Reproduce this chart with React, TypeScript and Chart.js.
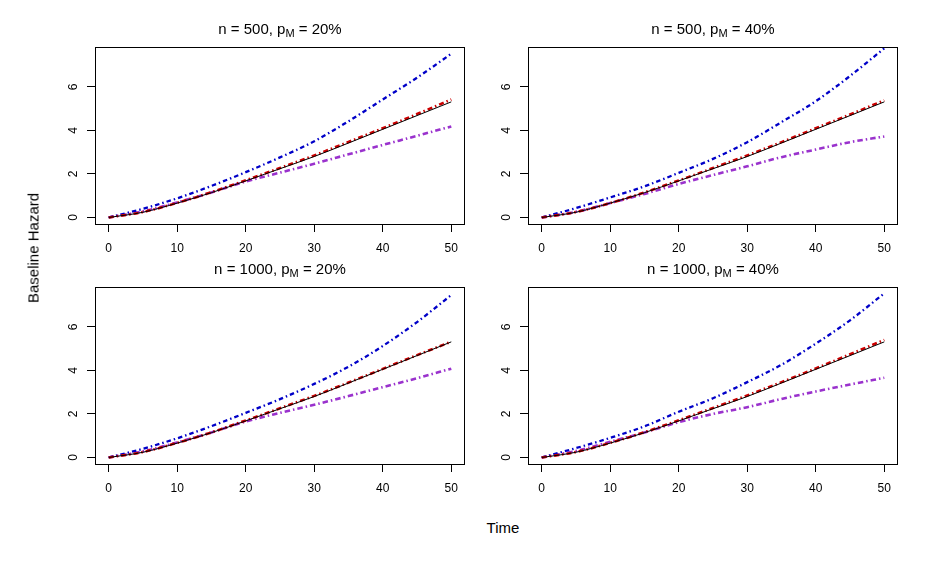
import {useEffect, useRef} from "react";
import {Chart, registerables} from "chart.js";

Chart.register(...registerables);

// time grid the curves were read at
const timePoints = [0, 5, 10, 15, 20, 25, 30, 35, 40, 45, 50];
const xTicks = [0, 10, 20, 30, 40, 50];
const yTicks = [0, 2, 4, 6];

// panel titles
const sampleSizes = [500, 500, 1000, 1000];
const missingPct = [20, 40, 20, 40];

// true baseline hazard (black, same in every panel)
const trueHazard = [0, 0.24, 0.66, 1.14, 1.68, 2.24, 2.8, 3.42, 4.05, 4.68, 5.31];

// red estimates
const redP1 = [0, 0.25, 0.67, 1.16, 1.71, 2.27, 2.85, 3.47, 4.1, 4.75, 5.42];
const redP2 = [0, 0.25, 0.66, 1.15, 1.7, 2.27, 2.85, 3.46, 4.1, 4.73, 5.38];
const redP3 = [0, 0.25, 0.67, 1.15, 1.7, 2.26, 2.83, 3.44, 4.07, 4.7, 5.32];
const redP4 = [0, 0.25, 0.67, 1.16, 1.71, 2.27, 2.85, 3.46, 4.09, 4.74, 5.4];

// blue estimates
const blueP1 = [0, 0.4, 0.88, 1.45, 2.08, 2.76, 3.5, 4.42, 5.42, 6.42, 7.52];
const blueP2 = [0, 0.43, 0.92, 1.43, 2.05, 2.69, 3.46, 4.38, 5.34, 6.5, 7.77];
const blueP3 = [0, 0.4, 0.88, 1.44, 2.05, 2.68, 3.38, 4.17, 5.12, 6.22, 7.46];
const blueP4 = [0, 0.43, 0.9, 1.43, 2.1, 2.72, 3.46, 4.26, 5.23, 6.3, 7.54];

// purple estimates
const purpleP1 = [0, 0.28, 0.69, 1.15, 1.65, 2.06, 2.47, 2.9, 3.33, 3.75, 4.18];
const purpleP2 = [0, 0.26, 0.66, 1.08, 1.54, 1.95, 2.35, 2.77, 3.12, 3.46, 3.72];
const purpleP3 = [0, 0.28, 0.69, 1.15, 1.65, 2.05, 2.42, 2.82, 3.23, 3.64, 4.08];
const purpleP4 = [0, 0.3, 0.72, 1.15, 1.62, 2.0, 2.31, 2.69, 3.03, 3.35, 3.66];

const redSeries = [redP1, redP2, redP3, redP4];
const blueSeries = [blueP1, blueP2, blueP3, blueP4];
const purpleSeries = [purpleP1, purpleP2, purpleP3, purpleP4];

const FONT = '"Liberation Sans", Arial, sans-serif';

// plot-area positions on the page
const plotLefts = [95, 528, 95, 528];
const plotTops = [47, 47, 287, 287];
const PLOT_W = 370;
const PLOT_H = 177;
const PAD_L = 60;
const PAD_T = 40;
const PAD_R = 10;
const PAD_B = 36;

const boxPlugin = {
    id: "box",
    afterDatasetsDraw(chart: any) {
        const {ctx, chartArea: a} = chart;
        ctx.save();
        ctx.strokeStyle = "#000";
        ctx.lineWidth = 1;
        ctx.strokeRect(a.left + 0.5, a.top + 0.5, a.right - a.left - 1, a.bottom - a.top);
        ctx.restore();
    },
};

const titlePlugin = {
    id: "panelTitle",
    afterDraw(chart: any, _args: any, opts: any) {
        const {ctx, chartArea: a} = chart;
        const big = `15px ${FONT}`;
        const small = `11px ${FONT}`;
        const head = `n = ${opts.n}, p`;
        const sub = "M";
        const tail = ` = ${opts.pct}%`;
        ctx.save();
        ctx.fillStyle = "#000";
        ctx.textBaseline = "alphabetic";
        ctx.textAlign = "left";
        ctx.font = big;
        const w1 = ctx.measureText(head).width;
        const w3 = ctx.measureText(tail).width;
        ctx.font = small;
        const w2 = ctx.measureText(sub).width;
        let x = (a.left + a.right) / 2 - (w1 + w2 + w3) / 2;
        const y = a.top - 13;
        ctx.font = big;
        ctx.fillText(head, x, y);
        x += w1;
        ctx.font = small;
        ctx.fillText(sub, x, y + 3);
        x += w2;
        ctx.font = big;
        ctx.fillText(tail, x, y);
        ctx.restore();
    },
};

const toPoints = (vals: number[]) => timePoints.map((t, i) => ({x: t, y: vals[i]}));

const Panel = ({idx}: {idx: number}) => {
    const canvasRef = useRef<HTMLCanvasElement>(null);

    useEffect(() => {
        if (!canvasRef.current) return;
        const dash = (color: string, vals: number[], width: number, pattern: number[]) => ({
            data: toPoints(vals),
            borderColor: color,
            borderWidth: width,
            borderDash: pattern,
            borderCapStyle: "butt" as const,
            pointRadius: 0,
            cubicInterpolationMode: "monotone" as const,
            fill: false,
        });
        const chart = new Chart(canvasRef.current, {
            type: "line",
            data: {
                datasets: [
                    {
                        data: toPoints(trueHazard),
                        borderColor: "#000",
                        borderWidth: 1,
                        pointRadius: 0,
                        cubicInterpolationMode: "monotone",
                        fill: false,
                    },
                    dash("#CC0000", redSeries[idx], 2.6, [5, 3, 1.5, 3]),
                    dash("#0000C8", blueSeries[idx], 2.3, [4.5, 3, 1.5, 3]),
                    dash("#9A32CD", purpleSeries[idx], 2.6, [5.5, 3, 1.5, 3]),
                ],
            },
            options: {
                animation: false,
                responsive: false,
                devicePixelRatio: 1,
                layout: {padding: {top: PAD_T, right: PAD_R, left: 0, bottom: 0}},
                plugins: {
                    legend: {display: false},
                    tooltip: {enabled: false},
                    panelTitle: {n: sampleSizes[idx], pct: missingPct[idx]},
                } as any,
                scales: {
                    x: {
                        type: "linear",
                        min: -2,
                        max: 52,
                        afterBuildTicks: (s: any) => {
                            s.ticks = xTicks.map((v) => ({value: v}));
                        },
                        afterFit: (s: any) => {
                            s.height = PAD_B;
                        },
                        border: {display: false},
                        grid: {drawOnChartArea: false, tickLength: 8, color: "#000", lineWidth: 1},
                        ticks: {
                            color: "#000",
                            font: {family: FONT, size: 12},
                            padding: 9,
                            maxRotation: 0,
                            autoSkip: false,
                        },
                    },
                    y: {
                        type: "linear",
                        min: -0.3,
                        max: 7.83,
                        afterBuildTicks: (s: any) => {
                            s.ticks = yTicks.map((v) => ({value: v}));
                        },
                        afterFit: (s: any) => {
                            s.width = PAD_L;
                        },
                        border: {display: false},
                        grid: {drawOnChartArea: false, tickLength: 8, color: "#000", lineWidth: 1},
                        ticks: {
                            color: "#000",
                            font: {family: FONT, size: 12},
                            padding: 10,
                            minRotation: 90,
                            maxRotation: 90,
                            crossAlign: "center",
                            autoSkip: false,
                        },
                    },
                },
            },
            plugins: [boxPlugin, titlePlugin],
        });
        return () => {
            chart.destroy();
        };
    }, [idx]);

    const w = PAD_L + PLOT_W + PAD_R;
    const h = PAD_T + PLOT_H + PAD_B;
    return (
        <canvas
            ref={canvasRef}
            width={w}
            height={h}
            style={{
                position: "absolute",
                left: plotLefts[idx] - PAD_L,
                top: plotTops[idx] - PAD_T,
                width: w,
                height: h,
            }}
        />
    );
};

const App = () => {
    return (
        <div
            style={{
                position: "absolute",
                left: 0,
                top: 0,
                width: 946,
                height: 576,
                background: "#fff",
                overflow: "hidden",
                fontFamily: FONT,
            }}
        >
            {[0, 1, 2, 3].map((i) => (
                <Panel key={i} idx={i}/>
            ))}
            <div
                style={{
                    position: "absolute",
                    left: 503,
                    top: 527,
                    transform: "translate(-50%, -50%)",
                    fontSize: 15,
                    whiteSpace: "nowrap",
                }}
            >
                Time
            </div>
            <div
                style={{
                    position: "absolute",
                    left: 33,
                    top: 248,
                    transform: "translate(-50%, -50%) rotate(-90deg)",
                    fontSize: 15,
                    whiteSpace: "nowrap",
                }}
            >
                Baseline Hazard
            </div>
        </div>
    );
};

export default App;
